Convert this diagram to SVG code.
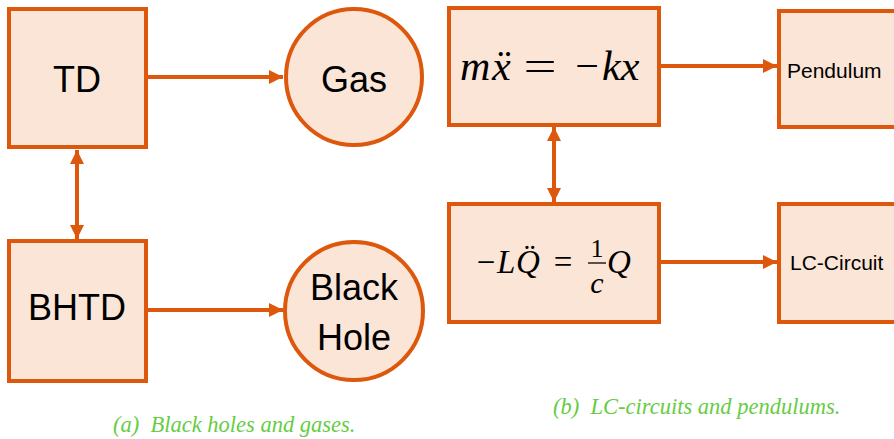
<svg xmlns="http://www.w3.org/2000/svg" width="894" height="439" viewBox="0 0 894 439">
<defs>
<style>
.box{fill:#fbe5d6;stroke:#dd570c;stroke-width:4}
.edge{stroke:#dd570c;stroke-width:4;fill:none}
.lbl{font-family:"Liberation Sans","Open Sans",sans-serif;fill:#000;text-anchor:middle}
.mi{font-family:"Liberation Serif","DejaVu Serif",serif;font-style:italic;fill:#000}
.mn{font-family:"Liberation Serif","DejaVu Serif",serif;font-style:normal;fill:#000;text-anchor:middle}
.cap{font-family:"Liberation Serif","DejaVu Serif",serif;font-style:italic;fill:#66cc44;font-size:22.5px}
</style>
<marker id="ah" viewBox="0 0 10 10" refX="10" refY="5" markerWidth="3.6" markerHeight="3.6" orient="auto-start-reverse" markerUnits="strokeWidth">
<path d="M0,0 L10,5 L0,10 Z" fill="#dd570c"/>
</marker>
</defs>
<rect width="894" height="439" fill="#fff"/>
<g id="edges">
<line class="edge" x1="146" y1="77" x2="283" y2="77" marker-end="url(#ah)"/>
<line class="edge" x1="146" y1="310" x2="283" y2="310" marker-end="url(#ah)"/>
<line class="edge" x1="77" y1="150" x2="77" y2="239" marker-start="url(#ah)" marker-end="url(#ah)"/>
<line class="edge" x1="659" y1="66" x2="777" y2="66" marker-end="url(#ah)"/>
<line class="edge" x1="659" y1="262" x2="777" y2="262" marker-end="url(#ah)"/>
<line class="edge" x1="554" y1="127" x2="554" y2="202" marker-start="url(#ah)" marker-end="url(#ah)"/>
</g>
<g id="td">
<rect class="box" x="9" y="9" width="137" height="138"/>
<text class="lbl" x="77" y="92" font-size="36">TD</text>
</g>
<g id="gas">
<circle class="box" cx="354" cy="77" r="68"/>
<text class="lbl" x="354" y="92" font-size="36">Gas</text>
</g>
<g id="bhtd">
<rect class="box" x="9" y="241" width="137" height="140"/>
<text class="lbl" x="77" y="320" font-size="36">BHTD</text>
</g>
<g id="blackhole">
<circle class="box" cx="354" cy="311" r="69"/>
<text class="lbl" x="354" y="300" font-size="36">Black</text>
<text class="lbl" x="354" y="350" font-size="36">Hole</text>
</g>
<g id="eq1">
<rect class="box" x="449" y="8" width="210" height="117"/>
<text class="mi" x="460" y="80" font-size="42">m</text>
<text class="mi" x="492" y="80" font-size="42">x&#776;</text>
<text class="mn" transform="translate(540,80) scale(1.4,1)" x="0" y="0" font-size="42">=</text>
<text class="mn" x="587" y="80" font-size="42">&#8722;</text>
<text class="mi" x="602" y="80" font-size="42">kx</text>
</g>
<g id="pendulum">
<rect class="box" x="779" y="11" width="125" height="116"/>
<text class="lbl" x="787" y="78" font-size="21" style="text-anchor:start">Pendulum</text>
</g>
<g id="eq2">
<rect class="box" x="449" y="204" width="210" height="118"/>
<text class="mn" x="486" y="273" font-size="33">&#8722;</text>
<text class="mi" x="497" y="273" font-size="33">L</text>
<text class="mi" x="516" y="273" font-size="33">Q&#776;</text>
<text class="mn" x="563" y="273" font-size="33">=</text>
<text class="mn" x="597" y="257" font-size="26">1</text>
<line x1="588" y1="263" x2="606" y2="263" stroke="#000" stroke-width="1.3"/>
<text class="mi" x="597" y="293" font-size="30" style="text-anchor:middle">c</text>
<text class="mi" x="607" y="273" font-size="33">Q</text>
</g>
<g id="lccircuit">
<rect class="box" x="779" y="204" width="125" height="118"/>
<text class="lbl" x="790" y="270" font-size="21" style="text-anchor:start">LC-Circuit</text>
</g>
<text class="cap" x="113" y="432" xml:space="preserve">(a)  Black holes and gases.</text>
<text class="cap" x="553" y="414" xml:space="preserve">(b)  LC-circuits and pendulums.</text>
</svg>
